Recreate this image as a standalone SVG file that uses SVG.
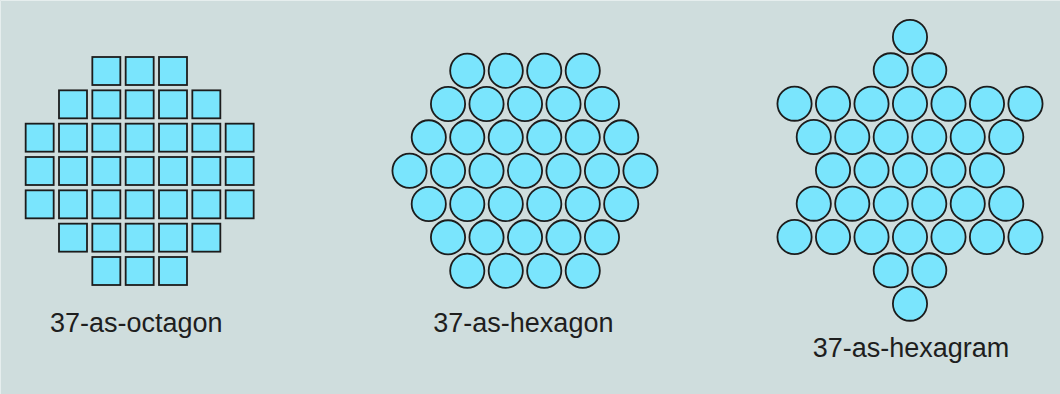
<svg xmlns="http://www.w3.org/2000/svg" xmlns:xlink="http://www.w3.org/1999/xlink" width="1060" height="394" viewBox="0 0 1060 394">
<style>
.cell{fill:#7ae5fd;stroke:#1c1c1c;stroke-width:1.8}
.lbl{font-family:"Liberation Sans",Arial,sans-serif;font-size:27px;fill:#1e1e1e}
</style>
<defs>
<rect id="sq" class="cell" width="28" height="28"/>
<circle id="ci" class="cell" r="17.1"/>
</defs>
<rect width="1060" height="394" fill="#cfdddd"/>
<path d="M0.5 394V0.5H1060" fill="none" stroke="#e6eeee" stroke-width="1"/>
<g id="octagon">
<use href="#sq" x="92.33" y="57"/><use href="#sq" x="125.67" y="57"/><use href="#sq" x="159" y="57"/>
<use href="#sq" x="59" y="90.33"/><use href="#sq" x="92.33" y="90.33"/><use href="#sq" x="125.67" y="90.33"/><use href="#sq" x="159" y="90.33"/><use href="#sq" x="192.33" y="90.33"/>
<use href="#sq" x="25.67" y="123.67"/><use href="#sq" x="59" y="123.67"/><use href="#sq" x="92.33" y="123.67"/><use href="#sq" x="125.67" y="123.67"/><use href="#sq" x="159" y="123.67"/><use href="#sq" x="192.33" y="123.67"/><use href="#sq" x="225.67" y="123.67"/>
<use href="#sq" x="25.67" y="157"/><use href="#sq" x="59" y="157"/><use href="#sq" x="92.33" y="157"/><use href="#sq" x="125.67" y="157"/><use href="#sq" x="159" y="157"/><use href="#sq" x="192.33" y="157"/><use href="#sq" x="225.67" y="157"/>
<use href="#sq" x="25.67" y="190.33"/><use href="#sq" x="59" y="190.33"/><use href="#sq" x="92.33" y="190.33"/><use href="#sq" x="125.67" y="190.33"/><use href="#sq" x="159" y="190.33"/><use href="#sq" x="192.33" y="190.33"/><use href="#sq" x="225.67" y="190.33"/>
<use href="#sq" x="59" y="223.67"/><use href="#sq" x="92.33" y="223.67"/><use href="#sq" x="125.67" y="223.67"/><use href="#sq" x="159" y="223.67"/><use href="#sq" x="192.33" y="223.67"/>
<use href="#sq" x="92.33" y="257"/><use href="#sq" x="125.67" y="257"/><use href="#sq" x="159" y="257"/>
<text class="lbl" x="50" y="332">37-as-octagon</text>
</g>
<g id="hexagon">
<use href="#ci" x="467.26" y="70.7"/><use href="#ci" x="505.76" y="70.7"/><use href="#ci" x="544.24" y="70.7"/><use href="#ci" x="582.74" y="70.7"/>
<use href="#ci" x="448.02" y="104.03"/><use href="#ci" x="486.51" y="104.03"/><use href="#ci" x="525" y="104.03"/><use href="#ci" x="563.49" y="104.03"/><use href="#ci" x="601.98" y="104.03"/>
<use href="#ci" x="428.77" y="137.37"/><use href="#ci" x="467.26" y="137.37"/><use href="#ci" x="505.76" y="137.37"/><use href="#ci" x="544.24" y="137.37"/><use href="#ci" x="582.74" y="137.37"/><use href="#ci" x="621.23" y="137.37"/>
<use href="#ci" x="409.53" y="170.7"/><use href="#ci" x="448.02" y="170.7"/><use href="#ci" x="486.51" y="170.7"/><use href="#ci" x="525" y="170.7"/><use href="#ci" x="563.49" y="170.7"/><use href="#ci" x="601.98" y="170.7"/><use href="#ci" x="640.47" y="170.7"/>
<use href="#ci" x="428.77" y="204.03"/><use href="#ci" x="467.26" y="204.03"/><use href="#ci" x="505.76" y="204.03"/><use href="#ci" x="544.24" y="204.03"/><use href="#ci" x="582.74" y="204.03"/><use href="#ci" x="621.23" y="204.03"/>
<use href="#ci" x="448.02" y="237.37"/><use href="#ci" x="486.51" y="237.37"/><use href="#ci" x="525" y="237.37"/><use href="#ci" x="563.49" y="237.37"/><use href="#ci" x="601.98" y="237.37"/>
<use href="#ci" x="467.26" y="270.7"/><use href="#ci" x="505.76" y="270.7"/><use href="#ci" x="544.24" y="270.7"/><use href="#ci" x="582.74" y="270.7"/>
<text class="lbl" x="433.3" y="332">37-as-hexagon</text>
</g>
<g id="hexagram">
<use href="#ci" x="910" y="37"/>
<use href="#ci" x="890.76" y="70.33"/><use href="#ci" x="929.25" y="70.33"/>
<use href="#ci" x="794.53" y="103.67"/><use href="#ci" x="833.02" y="103.67"/><use href="#ci" x="871.51" y="103.67"/><use href="#ci" x="910" y="103.67"/><use href="#ci" x="948.49" y="103.67"/><use href="#ci" x="986.98" y="103.67"/><use href="#ci" x="1025.47" y="103.67"/>
<use href="#ci" x="813.77" y="137"/><use href="#ci" x="852.26" y="137"/><use href="#ci" x="890.75" y="137"/><use href="#ci" x="929.25" y="137"/><use href="#ci" x="967.74" y="137"/><use href="#ci" x="1006.23" y="137"/>
<use href="#ci" x="833.02" y="170.33"/><use href="#ci" x="871.51" y="170.33"/><use href="#ci" x="910" y="170.33"/><use href="#ci" x="948.49" y="170.33"/><use href="#ci" x="986.98" y="170.33"/>
<use href="#ci" x="813.77" y="203.67"/><use href="#ci" x="852.26" y="203.67"/><use href="#ci" x="890.75" y="203.67"/><use href="#ci" x="929.25" y="203.67"/><use href="#ci" x="967.74" y="203.67"/><use href="#ci" x="1006.23" y="203.67"/>
<use href="#ci" x="794.53" y="237"/><use href="#ci" x="833.02" y="237"/><use href="#ci" x="871.51" y="237"/><use href="#ci" x="910" y="237"/><use href="#ci" x="948.49" y="237"/><use href="#ci" x="986.98" y="237"/><use href="#ci" x="1025.47" y="237"/>
<use href="#ci" x="890.76" y="270.33"/><use href="#ci" x="929.25" y="270.33"/>
<use href="#ci" x="910" y="303.67"/>
<text class="lbl" x="812.7" y="357">37-as-hexagram</text>
</g>
</svg>
